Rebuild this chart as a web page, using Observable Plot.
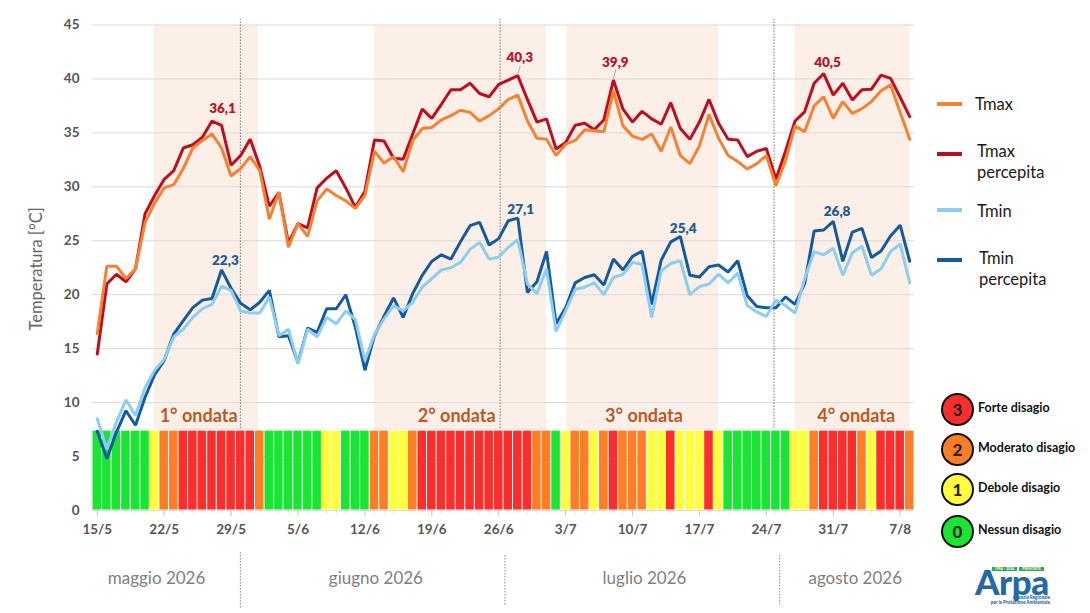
<!DOCTYPE html>
<html lang="it">
<head>
<meta charset="utf-8">
<script src="https://cdn.jsdelivr.net/npm/d3@7"></script>
<script src="https://cdn.jsdelivr.net/npm/@observablehq/plot@0.6"></script>
<style>
html,body{margin:0;padding:0;background:#fff;}
#wrap{position:relative;width:1090px;height:613px;overflow:hidden;font-family:Lato,"Noto Sans",sans-serif;}
#wrap svg{display:block;background:transparent;}
.lg{position:absolute;color:#1a1a1a;font-size:16.5px;line-height:20.5px;white-space:nowrap;}
.sw{position:absolute;width:25px;height:4px;}
.dot{position:absolute;width:29px;height:29px;border:2.5px solid #111;border-radius:50%;text-align:center;line-height:29px;font-weight:900;font-size:17px;color:#222;}
.dl{position:absolute;color:#111;font-size:12.5px;font-weight:700;white-space:nowrap;line-height:14px;}
.lo{position:absolute;}
</style>
</head>
<body>
<div id="wrap"></div>
<script>
const tickDays = [0,7,14,21,28,35,42,49,56,63,70,77,84];
const tickLabels = ["15/5","22/5","29/5","5/6","12/6","19/6","26/6","3/7","10/7","17/7","24/7","31/7","7/8"];
const yTicks = [0,5,10,15,20,25,30,35,40,45];

const tmax = [16.4,22.65,22.65,21.5,22.4,26.7,28.5,29.9,30.2,31.7,33.6,34.3,34.9,33.6,31.0,31.7,32.8,31.5,27.0,29.5,24.4,26.6,25.4,28.7,29.8,29.2,28.7,28.0,29.2,33.3,32.2,32.8,31.4,34.3,35.4,35.5,36.2,36.6,37.1,36.9,36.1,36.6,37.25,38.1,38.5,36.1,34.5,34.4,32.9,33.95,34.3,35.3,35.2,35.1,38.9,35.65,34.7,34.4,34.9,33.3,35.55,32.9,32.15,33.8,36.7,34.5,32.9,32.35,31.65,32.15,32.9,30.1,32.4,35.65,35.1,37.5,38.35,36.35,37.9,36.8,37.25,37.9,38.9,39.45,36.9,34.4];
const tmaxPerc = [14.5,21.0,21.9,21.2,22.4,27.5,29.2,30.7,31.5,33.6,33.9,34.6,36.1,35.7,32.0,32.9,34.4,31.9,28.2,29.5,24.8,26.6,26.2,29.9,30.8,31.5,29.9,28.1,29.6,34.35,34.25,32.65,32.55,34.9,37.2,36.35,37.65,39.0,39.0,39.6,38.65,38.35,39.5,39.9,40.3,38.1,36.0,36.3,33.5,34.1,35.7,35.9,35.3,36.2,39.9,37.2,36.0,37.0,36.3,35.8,37.8,35.4,34.4,36.0,38.1,35.9,34.4,34.35,32.8,33.3,33.55,30.7,33.3,36.1,36.95,39.6,40.5,38.5,39.6,38.05,39.0,39.05,40.35,40.05,38.3,36.5];
const tmin = [8.5,5.7,8.2,10.25,8.8,11.4,13.0,14.0,16.1,16.8,17.9,18.7,19.1,20.8,20.4,18.5,18.3,18.3,19.8,16.2,16.8,13.6,16.8,16.1,17.9,17.3,18.5,17.7,13.9,16.3,17.75,19.0,18.5,19.3,20.7,21.5,22.3,22.5,23.0,24.2,24.85,23.3,23.5,24.4,25.1,21.0,20.1,22.4,16.6,18.5,20.5,20.7,21.1,20.0,21.6,21.9,23.0,22.8,17.9,22.2,22.9,23.15,20.0,20.75,21.0,21.9,21.1,22.0,19.0,18.4,18.0,19.5,19.0,18.3,21.45,24.0,23.7,24.3,21.8,23.9,24.5,21.8,22.4,24.0,24.7,21.1];
const tminPerc = [7.35,4.8,7.25,9.25,7.9,10.5,12.6,13.9,16.35,17.6,18.8,19.5,19.65,22.3,20.6,19.2,18.6,19.3,20.4,16.1,16.2,13.7,16.9,16.5,18.7,18.7,20.0,17.0,13.0,16.2,18.0,19.7,17.9,20.1,21.8,23.1,23.7,23.3,24.9,26.4,26.7,24.6,25.2,26.85,27.1,20.2,21.2,24.0,17.3,18.8,21.1,21.6,21.85,20.9,23.3,22.3,23.55,24.05,19.1,23.2,24.9,25.4,21.8,21.65,22.6,22.75,22.1,23.15,19.9,18.9,18.8,18.8,19.8,19.1,21.0,25.9,26.0,26.8,23.1,25.8,26.15,23.45,24.05,25.45,26.45,23.1];
const disagio = [0,0,0,0,0,0,1,2,2,3,3,3,3,3,3,3,3,2,0,0,0,0,0,0,1,1,0,0,0,2,2,1,1,2,3,3,3,3,3,3,3,3,3,3,3,3,2,2,0,1,2,2,1,2,3,2,2,2,1,1,3,1,1,1,3,1,0,0,0,0,0,0,0,1,1,2,3,3,3,3,2,1,3,3,3,2];
const days = tmax.map((_, i) => i);

const waveStart = [5.98,29.0,49.1,73.0];
const waveEnd = [16.87,47.0,65.0,85.05];
const waveNames = ["1° ondata","2° ondata","3° ondata","4° ondata"];
const waveLabelDay = [10.6,37.6,57.2,79.4];

const peakText = ["36,1","40,3","39,9","40,5"];
const peakDay = [13.1,44.2,54.2,76.4];
const peakY = [37.2,42.0,41.55,41.55];
const lowText = ["22,3","27,1","25,4","26,8"];
const lowDay = [13.4,44.3,61.3,77.4];
const lowY = [23.2,27.85,26.1,27.7];

const monthNames = ["maggio 2026","giugno 2026","luglio 2026","agosto 2026"];
const monthDay = [6.2,29.15,57.25,79.3];
const sepTop = [14.97,42.15,70.8];
const sepBottom = [14.97,42.65,71.4];
const sepBottomTop = [-3.9,-4.17,-4.17];
const sepBottomEnd = [-9.07,-8.8,-8.8];

const levelColors = ["#19e632","#ffff3c","#fd7e24","#fb2d2d"];

const chart = Plot.plot({
  width: 1090, height: 613,
  marginLeft: 92, marginRight: 176, marginTop: 24.5, marginBottom: 103,
  style: {fontFamily: "Lato, 'Noto Sans', sans-serif", background: "transparent", overflow: "visible"},
  x: {type: "linear", domain: [-0.5, 85.5]},
  y: {type: "linear", domain: [0, 45]},
  color: {domain: [0,1,2,3], range: levelColors},
  marks: [
    Plot.rect(waveStart, {x1: waveStart, x2: waveEnd, y1: 7.4, y2: 45, fill: "#fcefe8"}),
    Plot.gridY(yTicks, {stroke: "#d9d9d9", strokeOpacity: 1, strokeWidth: 1}),
    Plot.rect(disagio, {x1: days.map(d => d - 0.5), x2: days.map(d => d + 0.5), y1: 0, y2: 7.4, fill: Plot.identity, inset: 0.5}),
    Plot.ruleX(sepTop, {y1: 7.6, y2: 45.5, stroke: "#777", strokeWidth: 1, strokeDasharray: "1.5,1.5"}),
    Plot.ruleX(sepBottom, {y1: sepBottomTop, y2: sepBottomEnd, stroke: "#888", strokeWidth: 1, strokeDasharray: "1.5,1.5"}),
    Plot.line(tmaxPerc, {x: days, y: Plot.identity, stroke: "#c00d1e", strokeWidth: 3, strokeLinejoin: "miter"}),
    Plot.line(tminPerc, {x: days, y: Plot.identity, stroke: "#135a9e", strokeWidth: 3, strokeLinejoin: "miter"}),
    Plot.line(tmax, {x: days, y: Plot.identity, stroke: "#f58233", strokeWidth: 3, strokeLinejoin: "miter"}),
    Plot.line(tmin, {x: days, y: Plot.identity, stroke: "#8ccdf0", strokeWidth: 3, strokeLinejoin: "miter"}),
    Plot.link([44,54], {x1: [44,54], y1: [40.45,40.05], x2: [44.25,54.25], y2: [41.2,40.9], stroke: "#999", strokeWidth: 0.8}),
    Plot.axisY({ticks: yTicks, tickSize: 0, tickPadding: 13, fontSize: 13.5, fontWeight: 700, color: "#555", label: null, tickFormat: d => d}),
    Plot.axisX({ticks: days, tickSize: 3, stroke: "#ddd", tickFormat: () => "", label: null}),
    Plot.axisX({ticks: tickDays, tickSize: 6, stroke: "#c8c8c8", tickPadding: 8, fontSize: 13.5, fontWeight: 700, color: "#555", tickFormat: d => tickLabels[tickDays.indexOf(d)], label: null}),
    Plot.text(["Temperatura [°C]"], {x: -6.3, y: 22.4, text: Plot.identity, rotate: -90, fontSize: 16.5, fill: "#666"}),
    Plot.text(waveNames, {x: waveLabelDay, y: 8.7, text: Plot.identity, fontSize: 18, fontWeight: 700, fill: "#b85a2a"}),
    Plot.text(peakText, {x: peakDay, y: peakY, text: Plot.identity, fontSize: 13.5, fontWeight: 800, fill: "#b5172a"}),
    Plot.text(lowText, {x: lowDay, y: lowY, text: Plot.identity, fontSize: 13.5, fontWeight: 800, fill: "#1f5c94"}),
    Plot.text(monthNames, {x: monthDay, y: -6.35, text: Plot.identity, fontSize: 17, fill: "#808080"})
  ]
});
const wrap = document.getElementById("wrap");
wrap.appendChild(chart);

const legendNames = ["Tmax","Tmax<br>percepita","Tmin","Tmin<br>percepita"];
const legendColors = ["#f58233","#c00d1e","#8ccdf0","#135a9e"];
const legendSwatchY = [102,152,208,258];
const legendTextX = [975,977,977,979];
const legendTextY = [94,141,201,248];
legendNames.forEach((n,i) => {
  const s = document.createElement("div"); s.className = "sw";
  s.style.cssText = `left:937px;top:${legendSwatchY[i]}px;background:${legendColors[i]}`;
  wrap.appendChild(s);
  const t = document.createElement("div"); t.className = "lg"; t.innerHTML = n;
  t.style.left = legendTextX[i] + "px"; t.style.top = legendTextY[i] + "px";
  wrap.appendChild(t);
});
const levelNames = ["Nessun disagio","Debole disagio","Moderato disagio","Forte disagio"];
const levelY = [515,473,433,393];
levelNames.forEach((n,i) => {
  const d = document.createElement("div"); d.className = "dot"; d.textContent = i;
  d.style.cssText = `left:941px;top:${levelY[i]}px;background:${levelColors[i]}`;
  wrap.appendChild(d);
  const t = document.createElement("div"); t.className = "dl"; t.textContent = n;
  t.style.left = "978px"; t.style.top = (levelY[i] + 8) + "px";
  wrap.appendChild(t);
});
const logo = document.createElement("div");
logo.className = "lo";
logo.style.cssText = "left:970px;top:560px;width:90px;height:50px;";
logo.innerHTML = `<div style="position:absolute;left:22px;top:7px;width:25px;height:4px;background:#2fa84f;color:#fff;font-size:3.6px;line-height:4px;font-weight:700;text-align:center">1994 - 2024</div>
<div style="position:absolute;left:49px;top:7px;width:25px;height:4px;background:#2fa84f;color:#fff;font-size:3.6px;line-height:4px;font-weight:700;text-align:center">PIEMONTE</div>
<div style="position:absolute;left:5px;top:6px;font-size:35px;line-height:30px;font-weight:900;color:#2468a8;letter-spacing:-0.5px;font-family:Lato,sans-serif">Arpa</div>
<div style="position:absolute;right:10px;top:35px;font-size:4.6px;line-height:4.8px;font-weight:900;color:#2468a8;text-align:right;white-space:nowrap">Agenzia Regionale<br>per la Protezione Ambientale</div>`;
wrap.appendChild(logo);
</script>
</body>
</html>
